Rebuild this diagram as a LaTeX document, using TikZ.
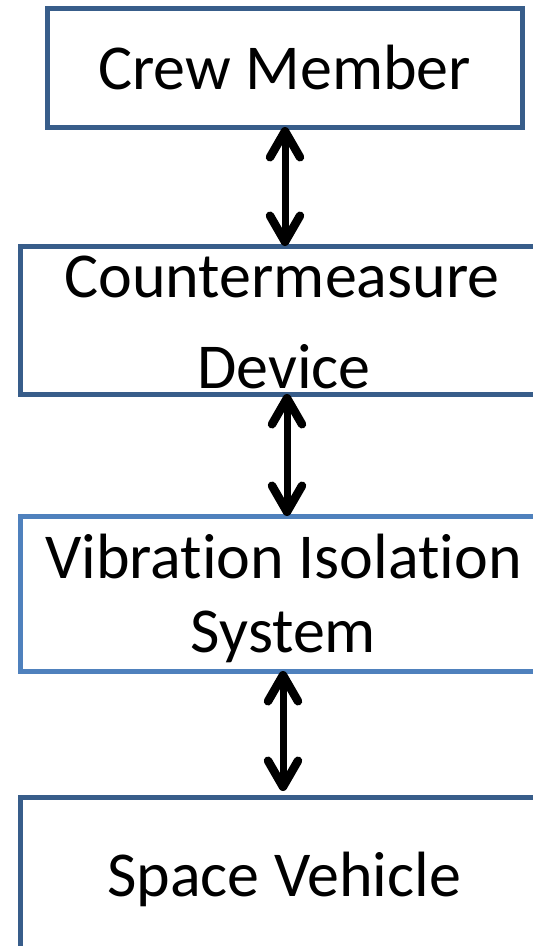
\documentclass[tikz,border=0pt]{standalone}
\usepackage{fontspec}
\setmainfont{Carlito}[Ligatures=NoCommon]
\usetikzlibrary{arrows.meta}
\definecolor{boxdark}{HTML}{385D8A}
\definecolor{boxlight}{HTML}{4F81BD}
\tikzset{
  blockbox/.style={draw=boxdark, line width=5pt, fill=white, inner sep=0pt, outer sep=0pt, rectangle},
  openbox/.style={draw=none, inner sep=0pt, outer sep=0pt, rectangle},
  frame/.style={draw=boxdark, line width=5pt, line join=miter},
  label/.style={anchor=base, inner sep=0pt, font=\fontsize{64}{76}\selectfont, text=black},
  barb/.tip={Straight Barb[round,line width=8.5pt,length=26pt,width=30pt]},
  link/.style={line width=7pt, barb-barb}
}
\begin{document}
\begin{tikzpicture}[x=1pt,y=-1pt]
\useasboundingbox (0,0) rectangle (533,946);
% boxes
\node[blockbox, minimum width=475pt, minimum height=119pt] (b1) at (284.5,67.5) {};
\node[openbox, minimum width=560pt, minimum height=148pt] (b2) at (300,320) {};
\node[openbox, minimum width=560pt, minimum height=155pt] (b3) at (300,593.5) {};
\node[openbox, minimum width=560pt, minimum height=160pt] (b4) at (300,877) {};
\draw[frame] (b2.north east) -- (b2.north west) -- (b2.south west) -- (b2.south east);
\draw[frame, draw=boxlight] (b3.north east) -- (b3.north west) -- (b3.south west) -- (b3.south east);
\draw[frame] (b4.north east) -- (b4.north west) -- (b4.south west);
% texts
\node[label] (t1) at (284.5,89) {Crew Member};
\node[label] (t2a) at (282,297) {Countermeasure};
\node[label] (t2b) at (284,388) {Device};
\node[label] (t3a) at (283.5,578) {Vibration Isolation};
\node[label] (t3b) at (283.5,652) {System};
\node[label] (t4) at (284,896) {Space Vehicle};
% connectors
\coordinate (a1) at (285,0);
\coordinate (a2) at (287,0);
\coordinate (a3) at (283,0);
\draw[link] (a1 |- b1.south) -- (a1 |- b2.north);
\draw[link] (a2 |- b2.south) -- (a2 |- b3.north);
\draw[link] (a3 |- b3.south) -- ([yshift=6pt]a3 |- b4.north);
\end{tikzpicture}
\end{document}
